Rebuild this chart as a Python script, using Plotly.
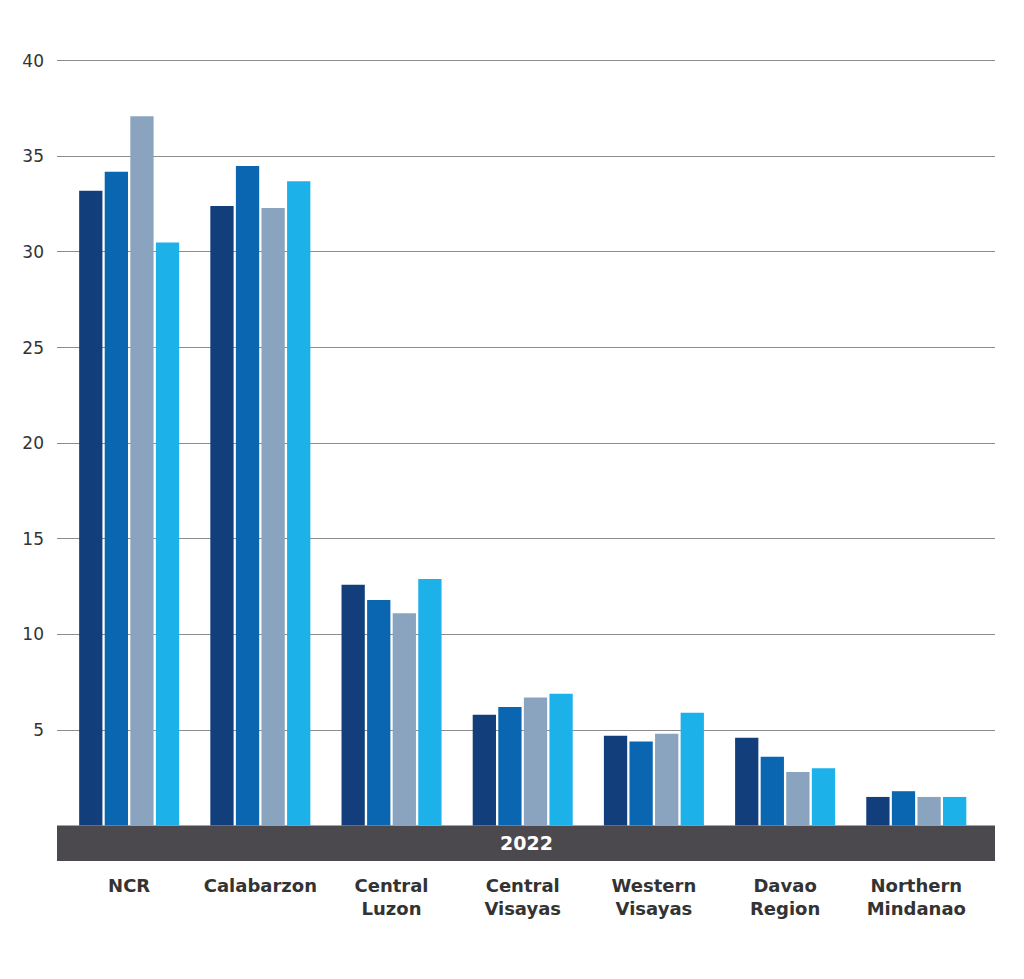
import plotly.graph_objects as go

# regions and quarterly values
regions = ["NCR", "Calabarzon", "Central<br>Luzon", "Central<br>Visayas",
           "Western<br>Visayas", "Davao<br>Region", "Northern<br>Mindanao"]
q1 = [33.2, 32.4, 12.6, 5.8, 4.7, 4.6, 1.5]
q2 = [34.2, 34.5, 11.8, 6.2, 4.4, 3.6, 1.8]
q3 = [37.1, 32.3, 11.1, 6.7, 4.8, 2.8, 1.5]
q4 = [30.5, 33.7, 12.9, 6.9, 5.9, 3.0, 1.5]
series_names = ["Q1", "Q2", "Q3", "Q4"]
colors = ["#123f7c", "#0a66b0", "#8aa4bf", "#1cb1e8"]
ytick_vals = [5, 10, 15, 20, 25, 30, 35, 40]
band_label = "2022"

x = list(range(len(regions)))

fig = go.Figure()
for name, vals, c in zip(series_names, [q1, q2, q3, q4], colors):
    fig.add_trace(go.Bar(x=x, y=vals, name=name, marker_color=c,
                         marker_line_width=0, showlegend=False))

# dark band under the bars with the year in it
fig.add_shape(type="rect", xref="paper", yref="y", x0=0, x1=1, y0=-1.85, y1=0,
              fillcolor="#4b494d", line_width=0, layer="below")
fig.add_annotation(text="<b>" + band_label + "</b>", xref="paper", yref="y",
                   x=0.5, y=-0.92, showarrow=False,
                   font=dict(family="DejaVu Sans", size=19, color="white"))

fig.update_layout(
    width=1024, height=979,
    margin=dict(l=49, r=37, t=47, b=126),
    paper_bgcolor="white", plot_bgcolor="white",
    barmode="group", bargap=0.22, bargroupgap=0.09,
    font=dict(family="DejaVu Sans", color="#333333"),
)
fig.update_xaxes(range=[-0.55, 6.6], tickvals=x,
                 ticktext=["<b>" + r + "</b>" for r in regions],
                 tickfont=dict(size=18, color="#333333"),
                 showgrid=False, zeroline=False, showline=False,
                 ticks="", ticklabelstandoff=12)
fig.update_yaxes(range=[-1.85, 40.3], tickvals=ytick_vals,
                 tickfont=dict(size=17, color="#333333"),
                 showgrid=True, gridcolor="#8c8c8c", gridwidth=1.3,
                 zeroline=False, showline=False, ticks="",
                 ticklabelstandoff=12)

fig.write_html("out.html")
